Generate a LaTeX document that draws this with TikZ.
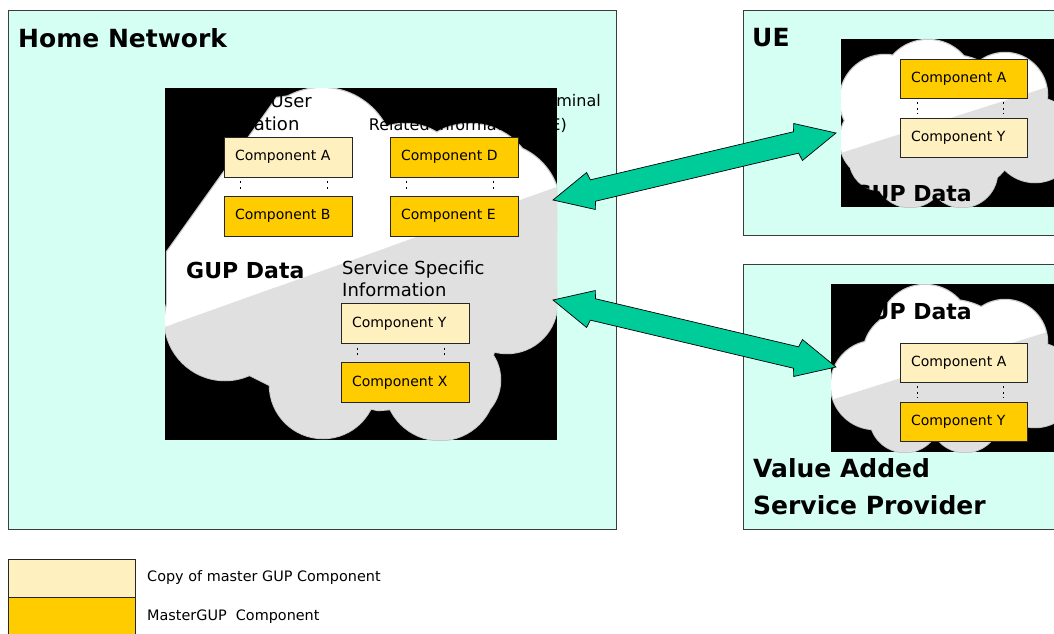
\documentclass[tikz,border=0pt]{standalone}
\usepackage{fontspec}
\setmainfont{DejaVu Sans}
\usetikzlibrary{calc}
\definecolor{mint}{RGB}{212,255,242}
\definecolor{mastercol}{RGB}{255,204,0}
\definecolor{copycol}{RGB}{255,240,192}
\definecolor{arrowgreen}{RGB}{0,204,153}
\definecolor{cloudgray}{RGB}{224,224,224}
\definecolor{cloudline}{RGB}{200,200,200}
\definecolor{framegray}{RGB}{60,60,60}
\def\homepoly{(167,252) -- (277,98) -- (300,95) -- (380,133) -- (440,136) -- (520,150) -- (557,190) -- (557,300) -- (500,335) -- (480,390) -- (440,405) -- (378,410) -- (270,385) -- (200,350) -- (167,317) -- cycle}
\def\homecloud{322/160/72, 405/186/62, 470/191/67, 495/208/65, 507/303/50, 455/380/45, 440/385/55, 323/385/53, 225/320/60}
\def\uecloud{885/100/45, 928/87/47, 1005/95/42, 880/140/40, 880/160/30, 910/172/35, 962/172/35, 1035/140/42, 950/125/70}
\def\vaspcloud{908/356/45, 925/331/46, 1005/342/42, 875/385/44, 905/417/35, 965/417/35, 1035/385/42, 950/370/70}
\newcommand\greenarrow[3]{%
  \begin{scope}[shift={($(#1)!0.5!(#2)$)},rotate=#3]
  \filldraw[bigarrow] (145.4pt,0pt) -- (106.4pt,19pt) -- (104.4pt,11pt) -- (-104.4pt,11pt) -- (-106.4pt,19pt) -- (-145.4pt,0pt) -- (-106.4pt,-19pt) -- (-104.4pt,-11pt) -- (104.4pt,-11pt) -- (106.4pt,-19pt) -- cycle;
  \end{scope}}
\begin{document}
\begin{tikzpicture}[x=1pt,y=-1pt,
  region/.style={draw=framegray,line width=0.8pt,fill=mint},
  comp/.style={draw=black!85,line width=0.8pt,minimum height=40pt,inner xsep=11pt,inner ysep=0pt,text width=106pt,align=left,font=\fontsize{14}{14}\selectfont},
  rcomp/.style={comp,minimum height=39pt,text width=105pt},
  mastercomp/.style={fill=mastercol},
  copycomp/.style={fill=copycol},
  dotline/.style={line width=1.4pt,dash pattern=on 2pt off 3.5pt},
  regiontitle/.style={font=\fontsize{25}{37}\bfseries\selectfont,inner sep=0pt,anchor=west,align=left},
  infotext/.style={font=\fontsize{18}{22.5}\selectfont,inner sep=0pt,align=left},
  smallinfo/.style={font=\fontsize{16}{16}\selectfont,inner sep=0pt},
  gup/.style={font=\fontsize{22}{22}\bfseries\selectfont,inner sep=0pt},
  legendtext/.style={font=\fontsize{14.4}{14.4}\selectfont,inner sep=0pt,anchor=west},
  bigarrow/.style={draw=black,line width=0.7pt,fill=arrowgreen,line join=miter},
  cloudedge/.style={cloudline,line width=2.5pt}
]
\useasboundingbox (0,0) rectangle (1054,634);
\fill[white] (0,0) rectangle (1054,634);

% regions
\path[region] (8,10) rectangle (616,529);
\path[region] (743,10) rectangle (1062,235);
\path[region] (743,264) rectangle (1062,529);

% black backgrounds of the cloud pictures
\fill[black] (165,88) rectangle (557,440);
\fill[black] (841,39) rectangle (1054,207);
\fill[black] (831,284) rectangle (1054,452);

% home cloud
\begin{scope}
\clip (165,88) rectangle (557,440);
\draw[cloudedge] \homepoly;
\draw[cloudedge] foreach \cx/\cy/\r in \homecloud {(\cx,\cy) circle (\r pt)};
\fill[white] \homepoly;
\fill[white] foreach \cx/\cy/\r in \homecloud {(\cx,\cy) circle (\r pt)};
\clip (100,350.2) -- (620,164.5) -- (620,460) -- (100,460) -- cycle;
\fill[cloudgray] \homepoly;
\fill[cloudgray] foreach \cx/\cy/\r in \homecloud {(\cx,\cy) circle (\r pt)};
\end{scope}

% UE cloud
\begin{scope}
\clip (841,39) rectangle (1054,207);
\draw[cloudedge] foreach \cx/\cy/\r in \uecloud {(\cx,\cy) circle (\r pt)};
\fill[white] foreach \cx/\cy/\r in \uecloud {(\cx,\cy) circle (\r pt)};
\clip (830,156.5) -- (1060,83) -- (1060,215) -- (830,215) -- cycle;
\fill[cloudgray] foreach \cx/\cy/\r in \uecloud {(\cx,\cy) circle (\r pt)};
\end{scope}

% VASP cloud
\begin{scope}
\clip (831,284) rectangle (1054,452);
\draw[cloudedge] foreach \cx/\cy/\r in \vaspcloud {(\cx,\cy) circle (\r pt)};
\fill[white] foreach \cx/\cy/\r in \vaspcloud {(\cx,\cy) circle (\r pt)};
\clip (820,403.5) -- (1060,328) -- (1060,460) -- (820,460) -- cycle;
\fill[cloudgray] foreach \cx/\cy/\r in \vaspcloud {(\cx,\cy) circle (\r pt)};
\end{scope}

% texts over the clouds
\node[regiontitle] (hntitle) at (18,38) {Home Network};
\node[regiontitle] (uetitle) at (752,38) {UE};
\node[regiontitle] (vasptitle) at (753,486.5) {Value Added\\Service Provider};
\node[infotext,anchor=west] (userinfo) at (195,112.5) {Generic User\\Information};
\node[smallinfo,anchor=east] (term1) at (601,101) {Terminal};
\node[smallinfo,anchor=east] (term2) at (567,125) {Related Information (UE)};
\node[infotext,anchor=west] (ssi) at (342,279) {Service Specific\\Information};
\node[gup,anchor=west] (gupH) at (186,270) {GUP Data};
\node[gup,anchor=east] (gupUE) at (972,193) {GUP Data};
\node[gup,anchor=east] (gupV) at (972,311) {GUP Data};

% components, home network
\node[comp,copycomp] (hA) at (288,157) {Component A};
\node[comp,mastercomp] (hB) at (288,216) {Component B};
\node[comp,mastercomp] (hD) at (454,157) {Component D};
\node[comp,mastercomp] (hE) at (454,216) {Component E};
\node[comp,copycomp] (hY) at (405,323.5) {Component Y};
\node[comp,mastercomp] (hX) at (405,382.5) {Component X};
% components, UE
\node[rcomp,mastercomp] (uA) at (963.5,78.5) {Component A};
\node[rcomp,copycomp] (uY) at (963.5,137.5) {Component Y};
% components, VASP
\node[rcomp,copycomp] (vA) at (963.5,362.5) {Component A};
\node[rcomp,mastercomp] (vY) at (963.5,421.5) {Component Y};

% dotted links
\foreach \a/\b in {hA/hB,hD/hE,hY/hX}{
  \draw[dotline] ($(\a.south west)+(17,4)$) -- ($(\b.north west)+(17,-4)$);
  \draw[dotline] ($(\a.south east)+(-25,4)$) -- ($(\b.north east)+(-25,-4)$);
}
\foreach \a/\b in {uA/uY,vA/vY}{
  \draw[dotline] ($(\a.south west)+(18,4)$) -- ($(\b.north west)+(18,-4)$);
  \draw[dotline] ($(\a.south east)+(-24,4)$) -- ($(\b.north east)+(-24,-4)$);
}

% arrows
\coordinate (tipH1) at (553,200);
\coordinate (tipUE) at (836,133);
\coordinate (tipH2) at (553,300);
\coordinate (tipV) at (836,367);
\greenarrow{tipH1}{tipUE}{13.32}
\greenarrow{tipH2}{tipV}{-13.32}

% legend
\path[draw=black!85,line width=0.8pt,fill=copycol] (8,559) rectangle (135,597);
\path[draw=black!85,line width=0.8pt,fill=mastercol] (8,597) rectangle (135,640);
\node[legendtext] (lgcopy) at (147,578) {Copy of master GUP Component};
\node[legendtext] (lgmaster) at (147,617) {MasterGUP~~Component};
\end{tikzpicture}
\end{document}
